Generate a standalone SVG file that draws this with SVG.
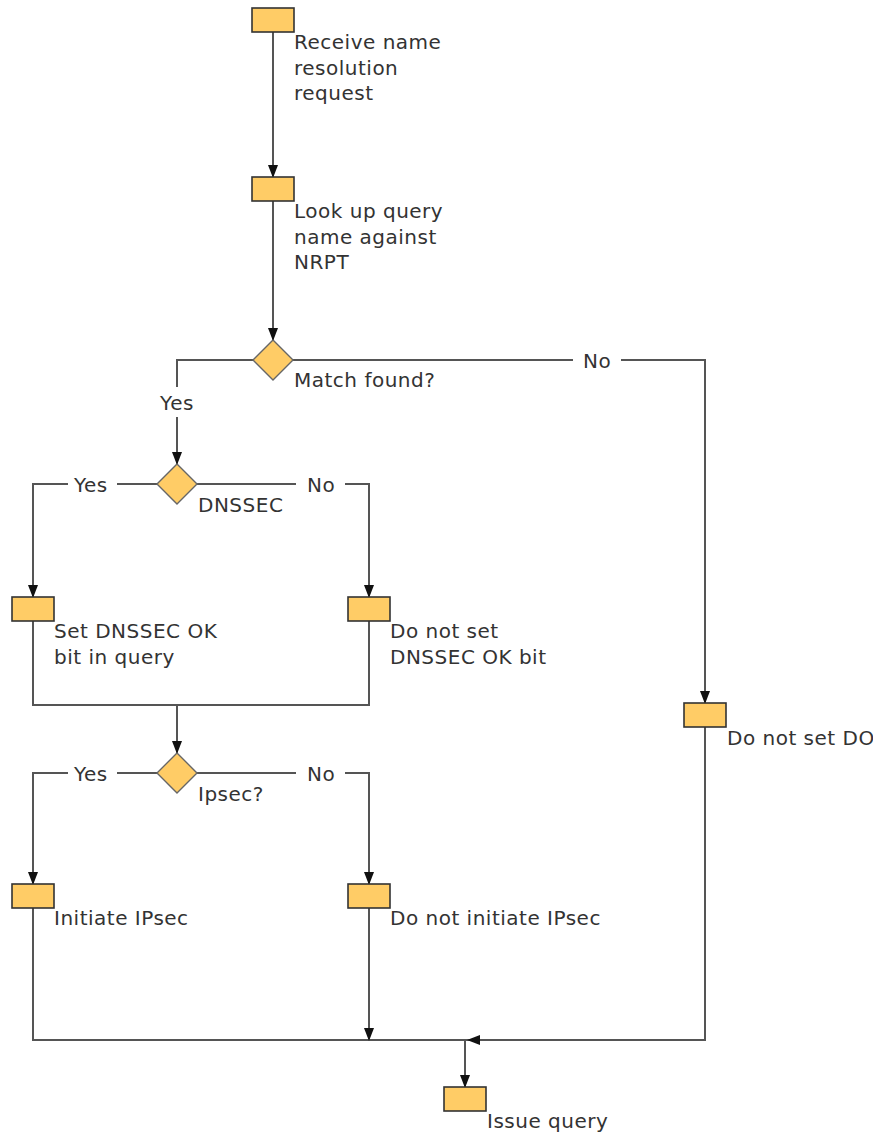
<svg xmlns="http://www.w3.org/2000/svg" width="885" height="1137" viewBox="0 0 885 1137">
<style>
.bx{fill:#FFCC66;stroke:#333;stroke-width:1.6}
.dm{fill:#FFCC66;stroke:#666;stroke-width:1.4}
.ln{fill:none;stroke:#555;stroke-width:2}
.ar{fill:none;stroke:#555;stroke-width:2;marker-end:url(#ah)}
text{font-family:"DejaVu Sans","Verdana",sans-serif;font-size:20px;letter-spacing:0.5px;fill:#333}
</style>
<defs>
<marker id="ah" markerUnits="userSpaceOnUse" viewBox="0 0 13 10" markerWidth="13" markerHeight="10" refX="12" refY="5" orient="auto">
<path d="M0,0 L13,5 L0,10 z" fill="#111"/>
</marker>
<clipPath id="clipR"><rect x="0" y="0" width="873" height="1137"/></clipPath>
</defs>
<rect width="885" height="1137" fill="#fff"/>
<g id="connectors">
<path class="ar" d="M273,32 V177"/>
<path class="ar" d="M273,201 V340"/>
<path class="ln" d="M253,360 H177 V387"/>
<path class="ar" d="M177,417 V464"/>
<path class="ln" d="M293,360 H573"/>
<path class="ar" d="M621,360 H705 V703"/>
<path class="ln" d="M157,484 H117"/>
<path class="ar" d="M68,484 H33 V597"/>
<path class="ln" d="M197,484 H296"/>
<path class="ar" d="M345,484 H369 V597"/>
<path class="ln" d="M33,621 V705 H369 V621"/>
<path class="ar" d="M177,705 V753"/>
<path class="ln" d="M157,773 H117"/>
<path class="ar" d="M68,773 H33 V884"/>
<path class="ln" d="M197,773 H296"/>
<path class="ar" d="M345,773 H369 V884"/>
<path class="ln" d="M33,908 V1040 H468"/>
<path class="ar" d="M369,908 V1040"/>
<path class="ar" d="M705,727 V1040 H468"/>
<path class="ar" d="M465,1040 V1087"/>
</g>
<g id="n1"><rect class="bx" x="252" y="8" width="42" height="24"/><text x="294" y="49">Receive name</text><text x="294" y="74.5">resolution</text><text x="294" y="100">request</text></g>
<g id="n2"><rect class="bx" x="252" y="177" width="42" height="24"/><text x="294" y="218">Look up query</text><text x="294" y="243.5">name against</text><text x="294" y="269">NRPT</text></g>
<g id="d1"><path class="dm" d="M273,340 L293,360 L273,380 L253,360 z"/><text x="294" y="387">Match found?</text><text x="177" y="410" text-anchor="middle">Yes</text><text x="583" y="368">No</text></g>
<g id="d2"><path class="dm" d="M177,464 L197,484 L177,504 L157,484 z"/><text x="198" y="512">DNSSEC</text><text x="74" y="492">Yes</text><text x="307" y="492">No</text></g>
<g id="n3"><rect class="bx" x="12" y="597" width="42" height="24"/><text x="54" y="638">Set DNSSEC OK</text><text x="54" y="663.5">bit in query</text></g>
<g id="n4"><rect class="bx" x="348" y="597" width="42" height="24"/><text x="390" y="638">Do not set</text><text x="390" y="663.5">DNSSEC OK bit</text></g>
<g id="n5"><rect class="bx" x="684" y="703" width="42" height="24"/><text x="727" y="745" clip-path="url(#clipR)">Do not set DO bit</text></g>
<g id="d3"><path class="dm" d="M177,753 L197,773 L177,793 L157,773 z"/><text x="198" y="801">Ipsec?</text><text x="74" y="781">Yes</text><text x="307" y="781">No</text></g>
<g id="n6"><rect class="bx" x="12" y="884" width="42" height="24"/><text x="54" y="925">Initiate IPsec</text></g>
<g id="n7"><rect class="bx" x="348" y="884" width="42" height="24"/><text x="390" y="925">Do not initiate IPsec</text></g>
<g id="n8"><rect class="bx" x="444" y="1087" width="42" height="24"/><text x="487" y="1128">Issue query</text></g>
</svg>
